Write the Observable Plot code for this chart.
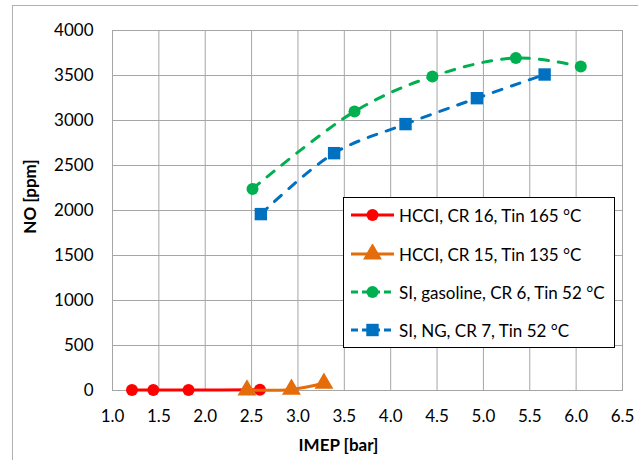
<!DOCTYPE html>
<html>
<head>
<meta charset="utf-8">
<script src="https://cdn.jsdelivr.net/npm/d3@7"></script>
<script src="https://cdn.jsdelivr.net/npm/@observablehq/plot@0.6"></script>
<style>
  html, body { margin: 0; padding: 0; background: #fff; overflow: hidden; }
  #wrap { position: relative; width: 638px; height: 460px; font-family: Lato, "Open Sans", sans-serif; }
  #border { position: absolute; left: 12px; top: 5px; width: 700px; height: 600px; border: 1px solid #b0b0b0; pointer-events: none; }
  #legend { position: absolute; left: 343px; top: 197px; width: 272px; height: 151px; background: #fff; border: 1px solid #000; box-sizing: border-box; }
  .entry { position: absolute; left: 7px; height: 20px; display: flex; align-items: center; font-size: 17px; color: #000; white-space: nowrap; }
  .entry svg { margin-right: 5px; }
</style>
</head>
<body>
<div id="wrap"><div id="border"></div></div>
<script>
// Data
const hcci16X = [1.21, 1.44, 1.82, 2.59];
const hcci16Y = [5, 5, 5, 8];
const hcci15X = [2.45, 2.93, 3.28];
const hcci15Y = [5, 12, 80];
const siGasX = [2.51, 3.61, 4.45, 5.35, 6.05];
const siGasY = [2240, 3100, 3490, 3695, 3600];
const siNgX = [2.60, 3.39, 4.16, 4.93, 5.66];
const siNgY = [1960, 2637, 2960, 3248, 3511];

const seriesNames = ["HCCI, CR 16, Tin 165 °C", "HCCI, CR 15, Tin 135 °C", "SI, gasoline, CR 6, Tin 52 °C", "SI, NG, CR 7, Tin 52 °C"];
const seriesColors = ["#ff0000", "#e46c0a", "#00b050", "#0070c0"];
const seriesSymbols = ["circle", "triangle", "circle", "square"];
const seriesDash = [null, null, "9,10", "9,10"];

const xTicks = [1.0, 1.5, 2.0, 2.5, 3.0, 3.5, 4.0, 4.5, 5.0, 5.5, 6.0, 6.5];
const yTicks = [0, 500, 1000, 1500, 2000, 2500, 3000, 3500, 4000];

const xs = [hcci16X, hcci15X, siGasX, siNgX];
const ys = [hcci16Y, hcci15Y, siGasY, siNgY];
const series = xs.map((xa, i) => xa.map((x, j) => ({x, y: ys[i][j], s: i})));

const gridColor = "#a6a6a6";
const marks = [
  Plot.gridX(xTicks, {stroke: gridColor, strokeOpacity: 1, strokeWidth: 1}),
  Plot.gridY(yTicks, {stroke: gridColor, strokeOpacity: 1, strokeWidth: 1}),
  Plot.frame({stroke: gridColor, strokeWidth: 1}),
  Plot.axisX({ticks: xTicks, tickSize: 0, tickPadding: 19, tickFormat: d => d.toFixed(1), label: null, fontSize: 17}),
  Plot.axisY({ticks: yTicks, tickSize: 0, tickPadding: 19, tickFormat: d => String(d), label: null, fontSize: 17}),
  Plot.text(["NO [ppm]"], {frameAnchor: "left", dx: -82, dy: -14, rotate: -90, fontWeight: "bold", fontSize: 17, textAnchor: "middle", lineAnchor: "middle"}),
  Plot.text(["IMEP [bar]"], {frameAnchor: "bottom", dx: -29, dy: 55, fontWeight: "bold", fontSize: 17, textAnchor: "middle", lineAnchor: "middle"})
];
series.forEach((d, i) => {
  marks.push(Plot.line(d, {x: "x", y: "y", stroke: seriesColors[i], strokeWidth: 3, strokeDasharray: seriesDash[i], strokeLinecap: seriesDash[i] ? "round" : "butt", curve: "catmull-rom"}));
  const r = seriesSymbols[i] === "square" ? 7 : seriesSymbols[i] === "triangle" ? 7 : 6;
  marks.push(Plot.dot(d, {x: "x", y: "y", symbol: seriesSymbols[i], r, fill: seriesColors[i], stroke: "none"}));
});

const chart = Plot.plot({
  width: 638,
  height: 460,
  marginLeft: 112,
  marginRight: 16,
  marginTop: 30,
  marginBottom: 70,
  style: {fontFamily: "Lato, 'Open Sans', sans-serif", fontSize: "17px", color: "#000", background: "transparent", overflow: "visible"},
  x: {domain: [1, 6.5]},
  y: {domain: [0, 4000]},
  marks
});
chart.style.position = "absolute";
chart.style.left = "0px";
chart.style.top = "0px";
const wrap = document.getElementById("wrap");
wrap.appendChild(chart);

// Legend
const legend = document.createElement("div");
legend.id = "legend";
const entryCenters = [17, 56, 94, 132];
seriesNames.forEach((name, i) => {
  const e = document.createElement("div");
  e.className = "entry";
  e.style.top = (entryCenters[i] - 10) + "px";
  const sw = d3.create("svg").attr("width", 43).attr("height", 20);
  sw.append("line").attr("x1", 0).attr("x2", 43).attr("y1", 10).attr("y2", 10)
    .attr("stroke", seriesColors[i]).attr("stroke-width", 3)
    .attr("stroke-dasharray", seriesDash[i] ? "7,4" : null);
  const sym = seriesSymbols[i] === "circle" ? d3.symbolCircle : seriesSymbols[i] === "square" ? d3.symbolSquare : d3.symbolTriangle;
  const rr = seriesSymbols[i] === "circle" ? 6 : 7;
  sw.append("path").attr("transform", "translate(21.5,10)")
    .attr("d", d3.symbol(sym, Math.PI * rr * rr)()).attr("fill", seriesColors[i]);
  e.appendChild(sw.node());
  const t = document.createElement("span");
  t.textContent = name;
  e.appendChild(t);
  legend.appendChild(e);
});
wrap.appendChild(legend);
</script>
</body>
</html>
